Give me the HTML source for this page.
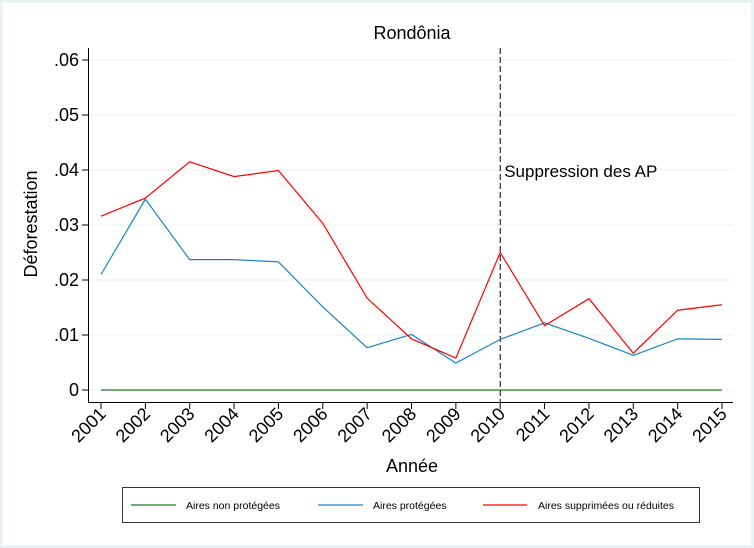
<!DOCTYPE html>
<html><head><meta charset="utf-8"><style>
body{margin:0;background:#eaf2f3}
svg{display:block}
text{font-family:"Liberation Sans",sans-serif;fill:#000}
</style></head><body>
<svg id="chart" width="754" height="548">
<rect x="3" y="3" width="748" height="542" fill="#fff"/>
<text x="412" y="39" font-size="18" text-anchor="middle">Rondônia</text>
<g id="grid"></g>
<g id="axes"></g>
<g id="series"></g>
<text transform="translate(37,224) rotate(-90)" font-size="18" text-anchor="middle">Déforestation</text>
<text x="412" y="472" font-size="18" text-anchor="middle">Année</text>
<g>
<rect x="122.5" y="487.5" width="577" height="35" fill="#fff" stroke="#333" stroke-width="1"/>
<line x1="131" y1="505" x2="176" y2="505" stroke="#1a7c1a" stroke-width="1.2"/>
<text x="186" y="509" font-size="10.5" fill="#333">Aires non protégées</text>
<line x1="318" y1="505" x2="363" y2="505" stroke="#1a86c4" stroke-width="1.2"/>
<text x="373" y="509" font-size="10.5" fill="#333">Aires protégées</text>
<line x1="483" y1="505" x2="527" y2="505" stroke="#ff0000" stroke-width="1.2"/>
<text x="538" y="509" font-size="10.5" fill="#333">Aires supprimées ou réduites</text>
</g>
</svg>
<script>
const years=[2001,2002,2003,2004,2005,2006,2007,2008,2009,2010,2011,2012,2013,2014,2015];
const nonProtected=[0,0,0,0,0,0,0,0,0,0,0,0,0,0,0];
const protectedAreas=[.0210,.0347,.0237,.0237,.0233,.0151,.0077,.0101,.0049,.0092,.0122,.0094,.0063,.0093,.0092];
const removedAreas=[.0316,.0349,.0415,.0388,.0399,.0303,.0167,.0093,.0058,.0250,.0117,.0166,.0067,.0145,.0155];
const yTicks=[0,.01,.02,.03,.04,.05,.06];
const yTickLabels=["0",".01",".02",".03",".04",".05",".06"];
const eventYear=2010;
const eventLabel="Suppression des AP";

const NS="http://www.w3.org/2000/svg";
const xS=y=>101+(y-2001)*(722-101)/14;
const yS=v=>390-v*5500;
function mk(tag,attrs,parent){const e=document.createElementNS(NS,tag);for(const k in attrs)e.setAttribute(k,attrs[k]);parent.appendChild(e);return e;}
const grid=document.getElementById('grid'),axes=document.getElementById('axes'),ser=document.getElementById('series');
yTicks.forEach((t,i)=>{
  const g=mk('line',{x1:89,x2:733,y1:yS(t),y2:yS(t),stroke:'#eaf2f3','stroke-width':1},grid);
  
  
  const tk=mk('line',{x1:82,x2:89,y1:yS(t),y2:yS(t),stroke:'#000'},axes);
  
  
  const tx=mk('text',{x:79,y:yS(t)+6,'font-size':18,'text-anchor':'end'},axes);
  tx.textContent=yTickLabels[i];
  
  
});
const ya=mk('line',{x1:88.5,x2:88.5,y1:48,y2:402,stroke:'#000'},axes);


const xa=mk('line',{x1:88,x2:733,y1:402.5,y2:402.5,stroke:'#000'},axes);


years.forEach(y=>{
  const tk=mk('line',{x1:xS(y),x2:xS(y),y1:402,y2:409,stroke:'#000'},axes);
  
  
  const tx=mk('text',{x:0,y:0,'font-size':18,'text-anchor':'end',transform:`translate(${xS(y)+6},${415}) rotate(-45)`},axes);
  tx.textContent=y;
  
  
});
const ev=mk('line',{x1:xS(eventYear),x2:xS(eventYear),y1:48,y2:402,stroke:'#000','stroke-dasharray':'6,3'},ser);


const evt=mk('text',{x:xS(eventYear)+4,y:177,'font-size':17},ser);
evt.textContent=eventLabel;


function line(vals,color,name){
  const p=mk('polyline',{points:vals.map((v,i)=>xS(years[i])+','+yS(v)).join(' '),fill:'none',stroke:color,'stroke-width':1.2},ser);
  
  
}
line(nonProtected,'#1a7c1a','line-non-protegees');
line(protectedAreas,'#1a86c4','line-protegees');
line(removedAreas,'#ff0000','line-supprimees');
</script>
</body></html>
